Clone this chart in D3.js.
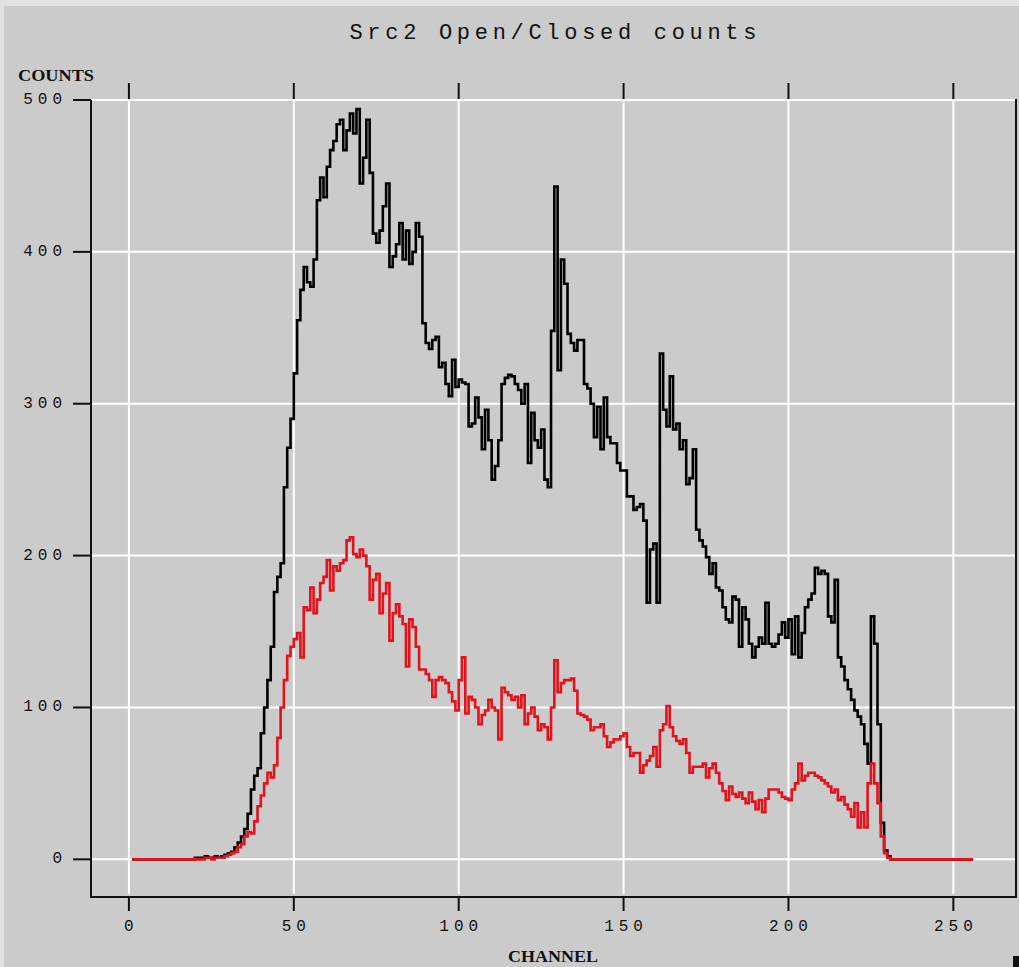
<!DOCTYPE html>
<html>
<head>
<meta charset="utf-8">
<script src="https://cdn.jsdelivr.net/npm/d3@7"></script>
<style>
  body { margin: 0; background: #e2e2e2; }
  svg { display: block; }
</style>
</head>
<body>
<svg id="chart"></svg>
<script>
(function () {
var width = 1019, height = 967

// counts per channel, channel 1..255
var openCounts = [
  0,0,0,0,0,0,0,0,0,0, 0,0,0,0,0,0,0,0,0,1,            // 1-20
  1,1,2,1,1,2,1,2,3,4, 5,8,11,15,20,30,46,55,60,83,     // 21-40
  100,118,140,176,186,195,245,271,290,320,             // 41-50
  355,375,390,380,377,395,434,449,436,456,             // 51-60
  467,473,484,487,467,480,491,478,494,445,             // 61-70
  462,487,452,412,406,414,430,445,390,397,             // 71-80
  405,419,395,414,392,400,419,410,353,340,             // 81-90
  336,342,344,324,327,313,305,329,311,316,             // 91-100
  314,313,285,287,304,291,270,296,276,250,             // 101-110
  259,276,313,317,319,318,313,309,300,313,             // 111-120
  261,294,276,271,283,250,245,348,443,322,             // 121-130
  395,379,346,340,335,342,342,313,310,300,             // 131-140
  278,298,270,304,278,274,274,261,256,256,             // 141-150
  239,239,230,232,234,223,169,204,208,169,             // 151-160
  333,296,285,318,283,287,270,276,247,251,             // 161-170
  270,217,210,206,199,188,195,179,177,166,             // 171-180
  158,156,173,171,140,166,158,142,133,140,             // 181-190
  146,142,169,142,140,142,148,156,146,158,             // 191-200
  135,160,133,149,166,171,175,192,188,190,             // 201-210
  188,160,156,184,133,127,118,112,105,98,              // 211-220
  94,89,76,63,160,142,89,24,6,2,                       // 221-230
  0,0,0,0,0,0,0,0,0,0, 0,0,0,0,0,0,0,0,0,0,            // 231-250
  0,0,0,0,0                                            // 251-255
]
var closedCounts = [
  0,0,0,0,0,0,0,0,0,0, 0,0,0,0,0,0,0,0,0,0,            // 1-20
  0,0,1,1,0,1,1,1,2,3, 4,5,8,10,15,18,17,25,35,42,     // 21-40
  50,57,54,62,80,100,118,134,140,145,                  // 41-50
  149,133,166,164,179,162,171,182,186,197,             // 51-60
  177,193,190,195,197,210,212,201,199,204,             // 61-70
  200,193,171,184,188,162,175,182,144,162,             // 71-80
  168,160,155,127,158,153,140,125,125,122,             // 81-90
  118,107,118,120,118,116,110,104,98,118,              // 91-100
  133,96,107,105,100,89,95,98,105,100,                 // 101-110
  98,79,113,110,108,105,107,100,108,89,                // 111-120
  96,100,94,85,89,87,79,100,131,110,                   // 121-130
  116,118,118,119,111,96,95,94,92,85,                  // 131-140
  87,87,89,81,74,77,79,79,81,83,                       // 141-150
  74,68,70,70,57,62,65,68,74,61,                       // 151-160
  85,89,101,87,81,78,76,79,70,57,                      // 161-170
  61,61,61,63,54,60,63,57,50,45,                       // 171-180
  39,48,43,41,44,40,37,44,38,33,                       // 181-190
  39,31,40,46,46,46,44,41,40,39,                       // 191-200
  46,50,63,52,55,57,57,55,54,52,                       // 201-210
  50,48,44,46,39,41,36,33,28,37,                       // 211-220
  21,31,21,50,63,50,37,15,4,1,                         // 221-230
  0,0,0,0,0,0,0,0,0,0, 0,0,0,0,0,0,0,0,0,0,            // 231-250
  0,0,0,0,0                                            // 251-255
]

var xTicks = [0, 50, 100, 150, 200, 250]
var yTicks = [0, 100, 200, 300, 400, 500]
var title = 'Src2 Open/Closed counts'
var xTitle = 'CHANNEL'
var yTitle = 'COUNTS'

var frame = {left: 91, right: 1016, top: 100, bottom: 897}

var svg = d3.select('#chart')
            .attr('width', width)
            .attr('height', height)

// panel background, light strip left/top is the body colour
svg.append('rect')
    .attr('x', 4).attr('y', 6)
    .attr('width', width - 4).attr('height', height - 6)
    .attr('fill', '#cbcbcb')

var x = d3.scaleLinear().domain([-11.5, 269]).range([frame.left, frame.right])
var y = d3.scaleLinear().domain([-24.8, 500]).range([frame.bottom, frame.top])

var mono = '"Liberation Mono", "DejaVu Sans Mono", monospace'
var serif = '"Liberation Serif", "DejaVu Serif", serif'

// white grid
svg.append('g').selectAll('line')
    .data(xTicks)
    .join('line')
    .attr('x1', d => x(d)).attr('x2', d => x(d))
    .attr('y1', frame.top).attr('y2', frame.bottom - 3)
    .attr('stroke', '#fff').attr('stroke-width', 2)

svg.append('g').selectAll('line')
    .data(yTicks)
    .join('line')
    .attr('x1', frame.left).attr('x2', frame.right)
    .attr('y1', d => y(d)).attr('y2', d => y(d))
    .attr('stroke', '#fff').attr('stroke-width', 2)

// frame: left, bottom, right (top edge is the 500 grid line)
svg.append('path')
    .attr('d', 'M' + frame.left + ',' + frame.top + 'V' + frame.bottom +
               'H' + frame.right + 'V' + (frame.top - 1))
    .attr('fill', 'none').attr('stroke', '#111').attr('stroke-width', 2)

// tick marks
var tk = svg.append('g').attr('stroke', '#111').attr('stroke-width', 2)
tk.selectAll('.tb').data(xTicks).join('line').attr('class', 'tb')
    .attr('x1', d => x(d)).attr('x2', d => x(d))
    .attr('y1', frame.bottom).attr('y2', frame.bottom + 14)
tk.selectAll('.tt').data(xTicks).join('line').attr('class', 'tt')
    .attr('x1', d => x(d)).attr('x2', d => x(d))
    .attr('y1', frame.top - 17).attr('y2', frame.top - 1)
tk.selectAll('.tl').data(yTicks).join('line').attr('class', 'tl')
    .attr('x1', frame.left - 18).attr('x2', frame.left)
    .attr('y1', d => y(d)).attr('y2', d => y(d))

// tick labels
var ls = 5
svg.append('g').selectAll('text')
    .data(xTicks)
    .join('text')
    .attr('x', d => x(d) + ls / 2)
    .attr('y', 931)
    .attr('text-anchor', 'middle')
    .style('font', '16px ' + mono)
    .style('letter-spacing', ls + 'px')
    .attr('fill', '#111')
    .text(d => d)

svg.append('g').selectAll('text')
    .data(yTicks)
    .join('text')
    .attr('x', 62 + ls)
    .attr('y', d => y(d) + 4)
    .attr('text-anchor', 'end')
    .style('font', '16px ' + mono)
    .style('letter-spacing', ls + 'px')
    .attr('fill', '#111')
    .text(d => d)

// titles
svg.append('text')
    .attr('x', 553 + 2.3).attr('y', 39)
    .attr('text-anchor', 'middle')
    .style('font', '22px ' + mono)
    .style('letter-spacing', '4.7px')
    .attr('fill', '#111')
    .text(title)

svg.append('text')
    .attr('x', 18).attr('y', 81)
    .attr('textLength', 76)
    .attr('lengthAdjust', 'spacingAndGlyphs')
    .style('font', 'bold 17px ' + serif)
    .attr('fill', '#111')
    .text(yTitle)

svg.append('text')
    .attr('x', 508).attr('y', 962)
    .attr('textLength', 90)
    .attr('lengthAdjust', 'spacingAndGlyphs')
    .style('font', 'bold 17px ' + serif)
    .attr('fill', '#111')
    .text(xTitle)

// histogram steps
function toPoints(arr) {
    var pts = arr.map((v, i) => ({ch: i + 1, v: v}))
    pts.push({ch: arr.length + 1, v: arr[arr.length - 1]})
    return pts
}
var line = d3.line()
    .x(d => x(d.ch))
    .y(d => y(d.v))
    .curve(d3.curveStepAfter)

svg.append('path')
    .datum(toPoints(openCounts))
    .attr('d', line)
    .attr('fill', 'none')
    .attr('stroke', '#000')
    .attr('stroke-width', 2.6)

svg.append('path')
    .datum(toPoints(closedCounts))
    .attr('d', line)
    .attr('fill', 'none')
    .attr('stroke', '#e3121b')
    .attr('stroke-width', 2.6)

// small corner marker at bottom right
svg.append('rect')
    .attr('x', 1013).attr('y', 956)
    .attr('width', 6).attr('height', 11)
    .attr('fill', '#111')
})();
</script>
</body>
</html>
